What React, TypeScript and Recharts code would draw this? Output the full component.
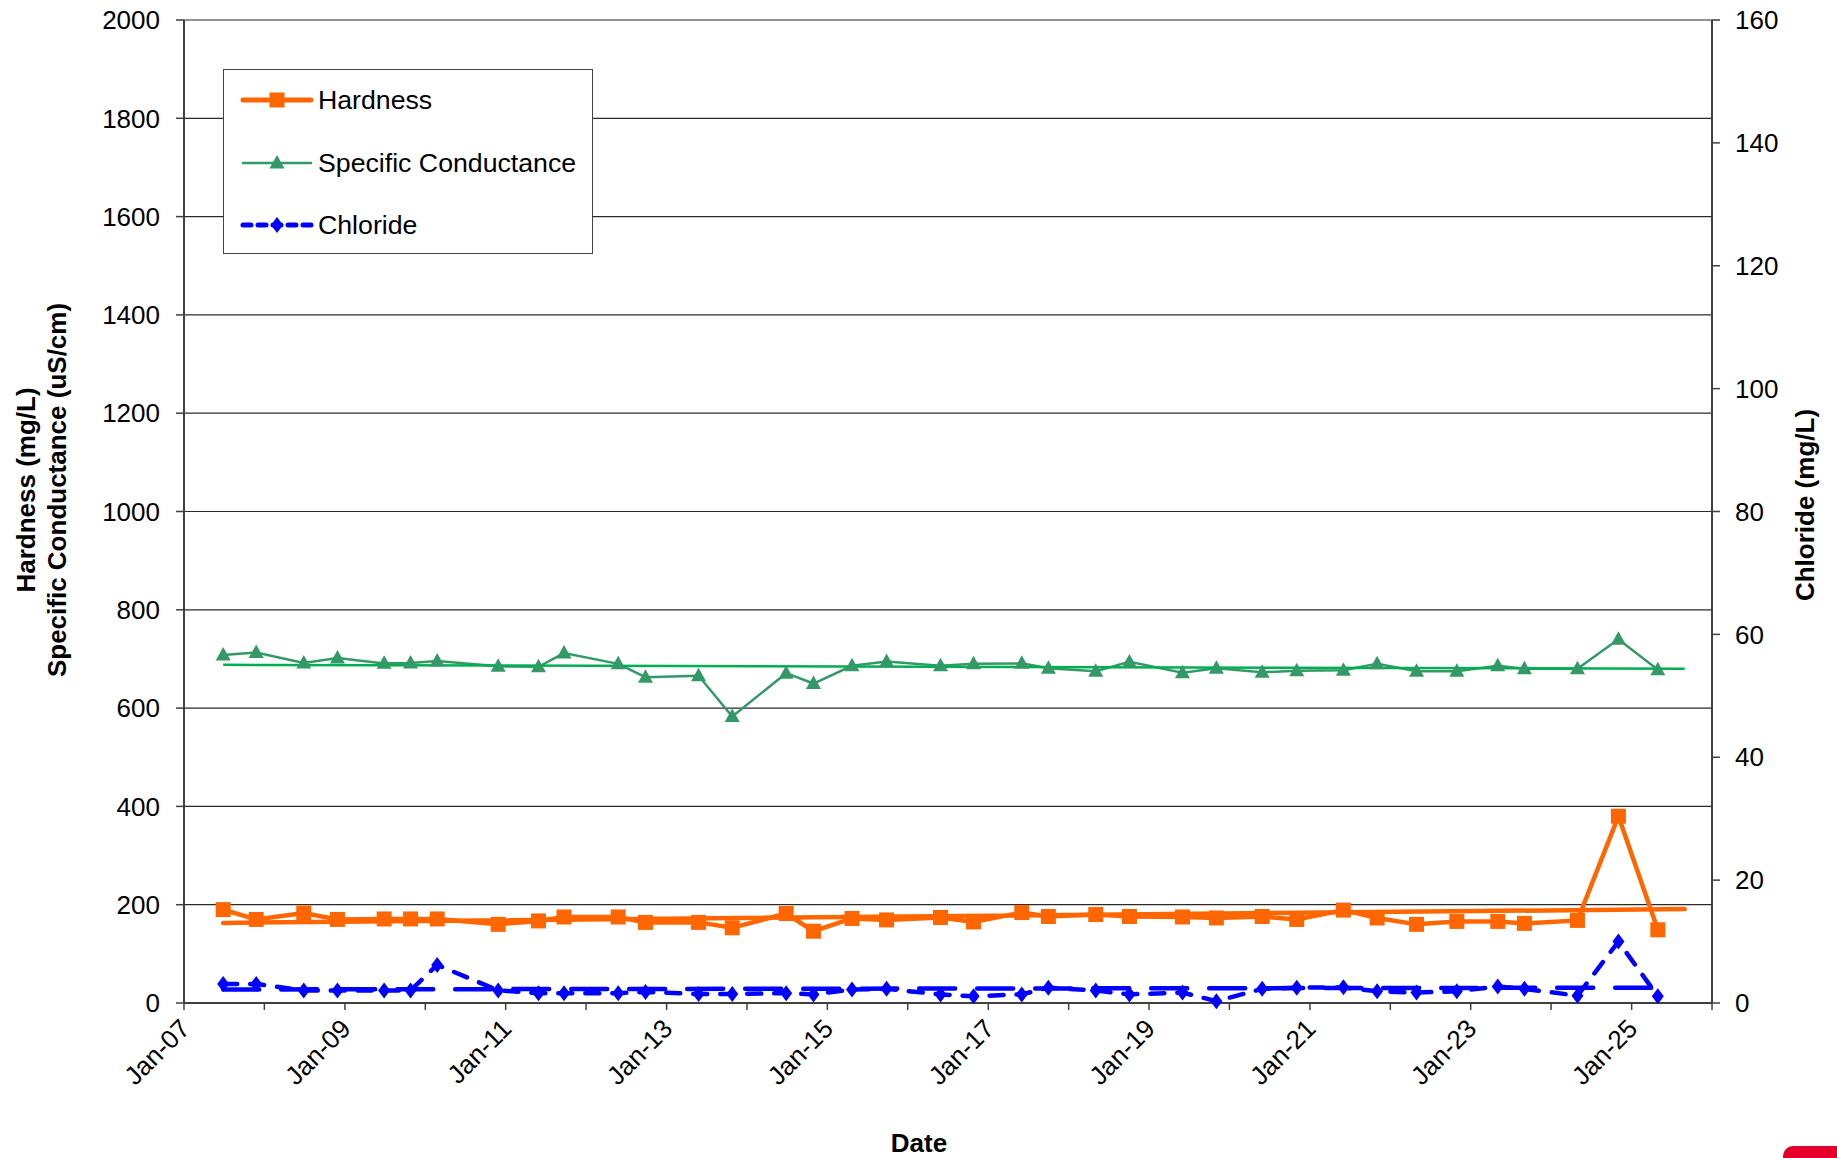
import { LineChart, Line, XAxis, YAxis, CartesianGrid, Legend } from "recharts";

// sampling dates
const SAMPLE_DATES = [
  "2007-06-28", "2007-11-25", "2008-06-28", "2008-11-28", "2009-06-28",
  "2009-10-26", "2010-02-24", "2010-11-28", "2011-05-30", "2011-09-23",
  "2012-05-26", "2012-09-27", "2013-05-26", "2013-10-26", "2014-06-28",
  "2014-10-30", "2015-04-23", "2015-09-27", "2016-05-29", "2016-10-26",
  "2017-06-02", "2017-10-01", "2018-05-04", "2018-10-04", "2019-06-02",
  "2019-11-03", "2020-05-29", "2020-11-02", "2021-06-02", "2021-11-02",
  "2022-04-30", "2022-10-30", "2023-05-04", "2023-09-02", "2024-04-30",
  "2024-11-02", "2025-04-30",
];

const HARDNESS = [
  190, 170, 183, 170, 171, 171, 171, 160, 167, 175, 175, 164, 164, 153, 182,
  146, 172, 169, 174, 165, 184, 176, 180, 176, 175, 173, 176, 170, 189, 173,
  160, 166, 166, 162, 168, 380, 149,
];

const CONDUCTANCE = [
  708, 713, 692, 702, 691, 692, 696, 685, 684, 712, 690, 663, 666, 583, 671,
  650, 686, 695, 686, 690, 691, 681, 675, 694, 672, 681, 673, 676, 677, 690,
  675, 675, 686, 680, 680, 740, 678,
];

const CHLORIDE = [
  3.1, 3.1, 2.05, 2.05, 2.05, 2.05, 6.2, 2.05, 1.6, 1.6, 1.6, 1.8, 1.45, 1.45,
  1.6, 1.4, 2.2, 2.3, 1.4, 1.1, 1.4, 2.5, 2.05, 1.4, 1.7, 0.3, 2.3, 2.5, 2.55,
  1.9, 1.7, 1.9, 2.7, 2.3, 1.2, 10.0, 1.1,
];

// linear trendlines (start / end)
const TREND_DATES = ["2007-06-28", "2025-08-30"];
const HARDNESS_TREND = [163, 191];
const CONDUCTANCE_TREND = [688, 680];
const CHLORIDE_TREND_DATES = ["2007-06-28", "2025-06-15"];
const CHLORIDE_TREND = [2.2, 2.5];

const LEFT_TICKS = [0, 200, 400, 600, 800, 1000, 1200, 1400, 1600, 1800, 2000];
const RIGHT_TICKS = [0, 20, 40, 60, 80, 100, 120, 140, 160];
const YEAR_TICKS = [
  "2007-01-01", "2008-01-01", "2009-01-01", "2010-01-01", "2011-01-01",
  "2012-01-01", "2013-01-01", "2014-01-01", "2015-01-01", "2016-01-01",
  "2017-01-01", "2018-01-01", "2019-01-01", "2020-01-01", "2021-01-01",
  "2022-01-01", "2023-01-01", "2024-01-01", "2025-01-01", "2026-01-01",
];

const ORANGE = "#FF6600";
const GREEN = "#339966";
const GREEN_TREND = "#00B050";
const BLUE = "#0000FF";
const FONT = "'Liberation Sans', Arial, sans-serif";

const samples = SAMPLE_DATES.map((d, i) => ({
  t: Date.parse(d),
  hardness: HARDNESS[i],
  conductance: CONDUCTANCE[i],
  chloride: CHLORIDE[i],
}));

const trend = TREND_DATES.map((d, i) => ({
  t: Date.parse(d),
  hardnessTrend: HARDNESS_TREND[i],
  conductanceTrend: CONDUCTANCE_TREND[i],
}));

const chlorideTrend = CHLORIDE_TREND_DATES.map((d, i) => ({
  t: Date.parse(d),
  chlorideTrend: CHLORIDE_TREND[i],
}));

// eslint-disable-next-line @typescript-eslint/no-explicit-any
const SquareDot = (props: any) => {
  const { cx, cy, index } = props;
  if (typeof cx !== "number" || typeof cy !== "number") return null;
  return <rect key={`sq-${index}`} x={cx - 7.5} y={cy - 7.5} width={15} height={15} fill={ORANGE} />;
};

// eslint-disable-next-line @typescript-eslint/no-explicit-any
const TriangleDot = (props: any) => {
  const { cx, cy, index } = props;
  if (typeof cx !== "number" || typeof cy !== "number") return null;
  return (
    <polygon
      key={`tr-${index}`}
      points={`${cx},${cy - 8} ${cx + 7.5},${cy + 5.5} ${cx - 7.5},${cy + 5.5}`}
      fill={GREEN}
    />
  );
};

// eslint-disable-next-line @typescript-eslint/no-explicit-any
const DiamondDot = (props: any) => {
  const { cx, cy, index } = props;
  if (typeof cx !== "number" || typeof cy !== "number") return null;
  return (
    <polygon
      key={`dm-${index}`}
      points={`${cx},${cy - 8} ${cx + 6},${cy} ${cx},${cy + 8} ${cx - 6},${cy}`}
      fill={BLUE}
    />
  );
};

// eslint-disable-next-line @typescript-eslint/no-explicit-any
const DateTick = (props: any) => {
  const { x, y, payload } = props;
  const yr = new Date(payload.value).getUTCFullYear();
  if (yr % 2 === 0) return <g />;
  const label = `Jan-${String(yr).slice(2)}`;
  return (
    <text
      x={x + 1}
      y={y}
      transform={`rotate(-45 ${x + 1} ${y})`}
      textAnchor="end"
      dominantBaseline="central"
      fontSize={26}
      fontFamily={FONT}
      fill="#000"
    >
      {label}
    </text>
  );
};

const legendRows = [
  { name: "Hardness", color: ORANGE, width: 5, dash: undefined, marker: "square" },
  { name: "Specific Conductance", color: GREEN, width: 2.5, dash: undefined, marker: "triangle" },
  { name: "Chloride", color: BLUE, width: 5, dash: "8 7", marker: "diamond" },
];

const renderLegend = () => (
  <div
    style={{
      position: "relative",
      width: 370,
      height: 185,
      background: "#fff",
      border: "1.5px solid #444",
      boxSizing: "border-box",
      fontFamily: FONT,
    }}
  >
    {legendRows.map((r, i) => (
      <div
        key={r.name}
        style={{
          position: "absolute",
          left: 16,
          top: [30, 93, 155][i] - 17,
          height: 34,
          display: "flex",
          alignItems: "center",
        }}
      >
        <svg width={74} height={24}>
          <line
            x1={3}
            y1={12}
            x2={71}
            y2={12}
            stroke={r.color}
            strokeWidth={r.width}
            strokeDasharray={r.dash}
            strokeLinecap="round"
          />
          {r.marker === "square" && <rect x={29.5} y={4.5} width={15} height={15} fill={r.color} />}
          {r.marker === "triangle" && <polygon points="37,4 44.5,17.5 29.5,17.5" fill={r.color} />}
          {r.marker === "diamond" && <polygon points="37,4 43,12 37,20 31,12" fill={r.color} />}
        </svg>
        <span style={{ fontSize: 26.7, color: "#000", marginLeft: 4, whiteSpace: "nowrap" }}>{r.name}</span>
      </div>
    ))}
  </div>
);

export default function App() {
  return (
    <div style={{ position: "relative", width: 1837, height: 1158, background: "#fff" }}>
      <style>{"body{margin:0}"}</style>
      <LineChart width={1837} height={1158} margin={{ top: 20, right: 0, bottom: 0, left: 0 }}>
        <CartesianGrid vertical={false} stroke="#2a2a2a" strokeWidth={1.2} />
        <XAxis
          dataKey="t"
          type="number"
          scale="time"
          domain={[Date.parse("2007-01-01"), Date.parse("2026-01-01")]}
          ticks={YEAR_TICKS.map((d) => Date.parse(d))}
          interval={0}
          height={155}
          tick={DateTick}
          tickSize={7}
          tickMargin={14}
          stroke="#404040"
          axisLine={{ stroke: "#404040", strokeWidth: 2 }}
          tickLine={{ stroke: "#404040", strokeWidth: 1.5 }}
          allowDataOverflow
        />
        <YAxis
          domain={[0, 2000]}
          ticks={LEFT_TICKS}
          interval={0}
          width={184}
          tickSize={8}
          tickMargin={16}
          tick={{ fontSize: 26, fill: "#000", fontFamily: FONT }}
          axisLine={{ stroke: "#404040", strokeWidth: 2 }}
          tickLine={{ stroke: "#404040", strokeWidth: 1.5 }}
        />
        <YAxis
          yAxisId="right"
          orientation="right"
          domain={[0, 160]}
          ticks={RIGHT_TICKS}
          interval={0}
          width={125}
          tickSize={8}
          tickMargin={15}
          tick={{ fontSize: 26, fill: "#000", fontFamily: FONT, textAnchor: "start" }}
          axisLine={{ stroke: "#404040", strokeWidth: 2 }}
          tickLine={{ stroke: "#404040", strokeWidth: 1.5 }}
        />
        <Legend
          layout="vertical"
          align="center"
          verticalAlign="middle"
          content={renderLegend}
          wrapperStyle={{ position: "absolute", left: 223, top: 69, width: 370, height: 185 }}
        />
        <Line
          data={samples}
          dataKey="conductance"
          name="Specific Conductance"
          type="linear"
          stroke={GREEN}
          strokeWidth={2.5}
          dot={TriangleDot}
          activeDot={false}
          isAnimationActive={false}
        />
        <Line
          data={trend}
          dataKey="conductanceTrend"
          type="linear"
          stroke={GREEN_TREND}
          strokeWidth={2.5}
          dot={false}
          activeDot={false}
          legendType="none"
          isAnimationActive={false}
        />
        <Line
          data={samples}
          dataKey="hardness"
          name="Hardness"
          type="linear"
          stroke={ORANGE}
          strokeWidth={4.5}
          dot={SquareDot}
          activeDot={false}
          isAnimationActive={false}
        />
        <Line
          data={trend}
          dataKey="hardnessTrend"
          type="linear"
          stroke={ORANGE}
          strokeWidth={4.5}
          strokeLinecap="round"
          dot={false}
          activeDot={false}
          legendType="none"
          isAnimationActive={false}
        />
        <Line
          data={samples}
          dataKey="chloride"
          name="Chloride"
          yAxisId="right"
          type="linear"
          stroke={BLUE}
          strokeWidth={4.5}
          strokeDasharray="14 13"
          strokeLinecap="round"
          dot={DiamondDot}
          activeDot={false}
          isAnimationActive={false}
        />
        <Line
          data={chlorideTrend}
          dataKey="chlorideTrend"
          yAxisId="right"
          type="linear"
          stroke={BLUE}
          strokeWidth={4.5}
          strokeDasharray="36 22"
          strokeLinecap="round"
          dot={false}
          activeDot={false}
          legendType="none"
          isAnimationActive={false}
        />
      </LineChart>

      {/* axis titles */}
      <svg
        width={1837}
        height={1158}
        style={{ position: "absolute", left: 0, top: 0, pointerEvents: "none" }}
        fontFamily={FONT}
        fontWeight="bold"
        fontSize={26}
      >
        <text x={26} y={490} transform="rotate(-90 26 490)" textAnchor="middle" dominantBaseline="central">
          Hardness (mg/L)
        </text>
        <text x={57} y={490} transform="rotate(-90 57 490)" textAnchor="middle" dominantBaseline="central">
          Specific Conductance (uS/cm)
        </text>
        <text x={1805} y={505} transform="rotate(-90 1805 505)" textAnchor="middle" dominantBaseline="central">
          Chloride (mg/L)
        </text>
        <text x={919} y={1143} textAnchor="middle" dominantBaseline="central">
          Date
        </text>
      </svg>

      {/* logo corner */}
      <div
        style={{
          position: "absolute",
          left: 1783,
          top: 1146,
          width: 54,
          height: 12,
          background: "#E4002B",
          borderTopLeftRadius: 10,
        }}
      />
    </div>
  );
}
